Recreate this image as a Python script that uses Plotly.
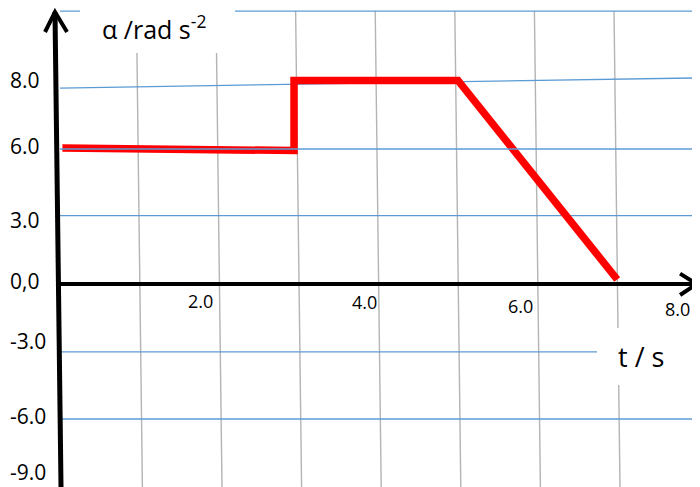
import plotly.graph_objects as go

# ---- data (t in s, alpha in chart grid units: one grid step = 3 units) ----
time_s = [0.03, 2.94, 2.94, 5.0, 7.0]
alpha = [6.05, 5.93, 9.05, 9.05, 0.2]

# y tick labels as printed on the picture and their positions
y_tick_text = ["8.0", "6.0", "3.0", "0,0", "-3.0", "-6.0", "-9.0"]
y_tick_pos = [9.07, 6.13, 2.84, 0.13, -2.53, -5.87, -8.36]

# x tick labels and positions
x_tick_text = ["2.0", "4.0", "6.0", "8.0"]
x_tick_pos = [1.76, 3.83, 5.78, 7.76]
x_tick_ypos = [-0.76, -0.80, -0.98, -1.11]

# grid
v_grid = [1, 2, 3, 4, 5, 6, 7, 8]
h_grid = [3.04, -3.02, -6.0]
h_grid_top = 12.13
h_grid_six = 6.0
h_grid_eight = (8.71, 9.16)

# page body has an 8px margin: figure is 692x479 placed at (8, 8)
XR = [-0.6533, 8.0402]
YR = [-9.022, 12.267]

BLUE = "#5b9bd5"
GRAY = "#b4b4b4"
FONT = "Open Sans"

fig = go.Figure()

shapes = []
# vertical grey grid lines (slightly tilted, hand drawn)
for t in v_grid:
    shapes.append(dict(type="line", x0=t - 0.04, y0=h_grid_top, x1=t + 0.035, y1=YR[0],
                       line=dict(color=GRAY, width=1.4), layer="below"))
# blue horizontal lines
shapes.append(dict(type="line", x0=0, y0=h_grid_top, x1=XR[1], y1=h_grid_top,
                   line=dict(color=BLUE, width=1.3), layer="below"))
shapes.append(dict(type="line", x0=0, y0=h_grid_eight[0], x1=8.0, y1=h_grid_eight[1],
                   line=dict(color=BLUE, width=1.3), layer="below"))
for y in h_grid:
    shapes.append(dict(type="line", x0=0, y0=y, x1=XR[1], y1=y,
                       line=dict(color=BLUE, width=1.3), layer="below"))
# white boxes behind the axis titles
shapes.append(dict(type="rect", x0=0.251, x1=2.198, y0=10.27, y1=YR[1],
                   fillcolor="white", line=dict(width=0), layer="below"))
shapes.append(dict(type="rect", x0=6.746, x1=8.015, y0=-4.489, y1=-1.956,
                   fillcolor="white", line=dict(width=0), layer="below"))
# 6.0 line drawn over the red line
shapes.append(dict(type="line", x0=0, y0=h_grid_six, x1=XR[1], y1=h_grid_six,
                   line=dict(color=BLUE, width=1.3), layer="above"))
# black axes with arrows
shapes.append(dict(type="line", x0=-0.063, y0=12.09, x1=0.0126, y1=YR[0],
                   line=dict(color="black", width=5), layer="above"))
shapes.append(dict(type="path", path="M -0.188 11.2 L -0.063 12.09 L 0.088 11.2",
                   line=dict(color="black", width=4), layer="above"))
shapes.append(dict(type="line", x0=0, y0=0, x1=8.0, y1=0,
                   line=dict(color="black", width=4), layer="above"))
shapes.append(dict(type="path", path="M 7.79 0.46 L 8.0 0 L 7.79 -0.49",
                   line=dict(color="black", width=4), layer="above"))

fig.add_trace(go.Scatter(x=time_s, y=alpha, mode="lines",
                         line=dict(color="#ff0000", width=7.5),
                         hoverinfo="skip", showlegend=False))

annotations = []
for txt, y in zip(y_tick_text, y_tick_pos):
    annotations.append(dict(x=XR[0], y=y, text=txt, showarrow=False, xanchor="left",
                            yanchor="middle", font=dict(family=FONT, size=21, color="black")))
for txt, x, y in zip(x_tick_text, x_tick_pos, x_tick_ypos):
    annotations.append(dict(x=x, y=y, text=txt, showarrow=False, xanchor="center",
                            yanchor="middle", font=dict(family=FONT, size=18, color="black")))
annotations.append(dict(x=0.50, y=11.42, text="α /rad s<sup>-2</sup>", showarrow=False,
                        xanchor="left", yanchor="middle",
                        font=dict(family=FONT, size=25, color="black")))
annotations.append(dict(x=6.98, y=-3.24, text="t / s", showarrow=False,
                        xanchor="left", yanchor="middle",
                        font=dict(family=FONT, size=27, color="black")))

fig.update_layout(
    width=692, height=479,
    margin=dict(l=0, r=0, t=0, b=0),
    paper_bgcolor="white", plot_bgcolor="white",
    xaxis=dict(range=XR, visible=False, fixedrange=True),
    yaxis=dict(range=YR, visible=False, fixedrange=True),
    shapes=shapes, annotations=annotations,
    showlegend=False,
)

fig.write_html("out.html")
